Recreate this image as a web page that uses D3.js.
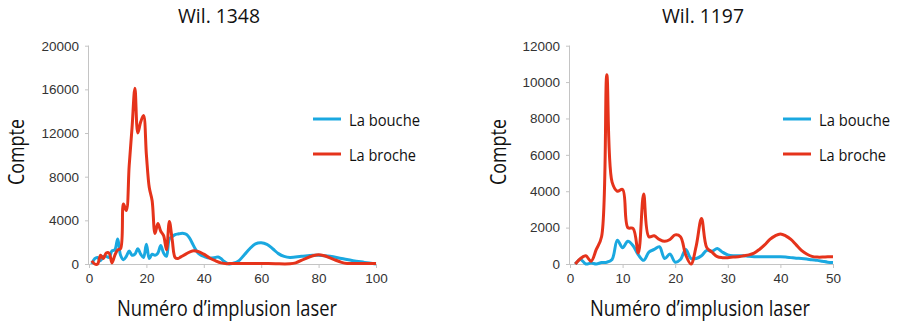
<!DOCTYPE html>
<html><head><meta charset="utf-8">
<script src="https://cdn.jsdelivr.net/npm/d3@7"></script>
<style>
html,body{margin:0;padding:0;background:#fff;}
svg{display:block;}
</style></head>
<body><svg id="c" width="897" height="326"></svg>
<script>
// ---------- Data ----------
const titles = ["Wil. 1348", "Wil. 1197"];
const seriesNames = ["La bouche", "La broche"];
const xTitle = "Numéro d’implusion laser";
const yTitle = "Compte";

// Wil. 1348
const leftBoucheX = [1,2,3,4,5,6,7,8,9,10,11,12,13,14,15,16,17,18,19,20,21,22,23,24,25,26,27,28,29,30,31,32,33,34,35,36,37,38,39,40,42,44,45,46,47,48,49,50,52,54,56,58,60,62,64,66,68,70,74,78,80,84,88,92,96,100];
const leftBoucheY = [0,500,600,300,700,700,600,1200,1300,2300,800,400,700,1200,800,900,1400,900,600,1800,500,900,800,1000,1700,1000,700,2300,2500,2700,2750,2800,2800,2700,2400,1900,1400,1000,800,700,550,600,650,500,250,80,0,50,250,800,1400,1850,1950,1800,1400,950,700,600,700,800,800,700,500,300,150,0];
const leftBrocheX = [1,2,3,4,5,6,7,8,9,10,11,12,13,14,15,16,17,18,19,20,21,22,23,24,25,26,27,28,29,30,31,32,34,36,38,40,42,44,46,48,50,55,60,65,70,72,75,78,80,82,85,88,90,95,100];
const leftBrocheY = [300,0,0,800,500,1000,1000,100,800,1300,1400,5500,4900,9000,12500,16100,12000,13000,13600,10000,7000,5800,2800,3700,3000,2600,1300,3900,2200,600,500,650,950,1200,1150,900,550,300,100,30,50,50,50,20,20,100,450,750,850,750,450,150,50,50,50];

// Wil. 1197
const rightX = [1,2,3,4,5,6,7,8,9,10,11,12,13,14,15,16,17,18,19,20,21,22,23,24,25,26,27,28,29,30,31,32,33,34,35,36,37,38,39,40,41,42,43,44,45,46,47,48,49,50];
const rightBoucheY = [0,250,0,50,0,80,100,250,1300,900,1250,1000,500,200,650,800,950,300,550,100,250,800,300,300,450,750,700,850,650,500,450,450,450,420,400,400,400,400,400,400,380,350,320,300,270,230,200,150,100,80];
const rightBrocheY = [0,300,450,150,800,1500,10400,4500,4000,4100,2000,1950,600,3850,1500,1550,1350,1250,1350,1600,1500,500,0,1000,2500,900,650,400,350,350,380,400,450,500,600,800,1050,1350,1550,1650,1550,1350,1050,750,550,420,380,380,400,400];

const leftXTicks = [0,20,40,60,80,100];
const leftYTicks = [0,4000,8000,12000,16000,20000];
const rightXTicks = [0,10,20,30,40,50];
const rightYTicks = [0,2000,4000,6000,8000,10000,12000];

const colors = ["#1aa8e0", "#e5331b"];

// ---------- Charts ----------
const charts = [
  { title: titles[0], x0: 89, x1: 376, xDomain: [0,100], yDomain: [0,20000], xTicks: leftXTicks, yTicks: leftYTicks,
    series: [ {x: leftBoucheX, y: leftBoucheY}, {x: leftBrocheX, y: leftBrocheY} ],
    titleX: 219, yTitleX: 24, xTitleX: 227, legendX: 313 },
  { title: titles[1], x0: 570, x1: 833, xDomain: [0,50], yDomain: [0,12000], xTicks: rightXTicks, yTicks: rightYTicks,
    series: [ {x: rightX, y: rightBoucheY}, {x: rightX, y: rightBrocheY} ],
    titleX: 703, yTitleX: 506, xTitleX: 700, legendX: 783 }
];

const svg = d3.select("#c");
const yTop = 45.7, yBot = 264;

charts.forEach(ch => {
  const g = svg.append("g");
  const x = d3.scaleLinear().domain(ch.xDomain).range([ch.x0, ch.x1]);
  const y = d3.scaleLinear().domain(ch.yDomain).range([yBot, yTop]);

  // axes
  const yAxis = d3.axisLeft(y).tickValues(ch.yTicks).tickSize(4).tickPadding(6).tickFormat(d3.format("d"));
  const xAxis = d3.axisBottom(x).tickValues(ch.xTicks).tickSize(4).tickPadding(5).tickFormat(d3.format("d"));
  const gy = g.append("g").attr("transform", `translate(${ch.x0},0)`).call(yAxis);
  const gx = g.append("g").attr("transform", `translate(0,${yBot})`).call(xAxis);
  [gy, gx].forEach(a => {
    a.select(".domain").attr("stroke", "#c4c4c4").attr("stroke-width", 1);
    a.selectAll(".tick line").attr("stroke", "#c4c4c4");
    a.selectAll(".tick text").attr("fill", "#333").style("font-family", "'Liberation Sans', Arial, sans-serif").style("font-size", "13.5px");
  });
  gy.select(".domain").attr("d", `M-0.5,${yTop}V${yBot}`);

  // lines
  const line = d3.line().curve(d3.curveCatmullRom.alpha(0.5));
  ch.series.forEach((s, i) => {
    const pts = s.x.map((xv, k) => [x(xv), y(s.y[k])]);
    g.append("path").attr("d", line(pts)).attr("fill", "none")
      .attr("stroke", colors[i]).attr("stroke-width", 3).attr("stroke-linejoin", "round");
  });

  // titles
  const tf = "'Open Sans', 'Noto Sans', sans-serif";
  g.append("text").attr("x", ch.titleX).attr("y", 23).attr("text-anchor", "middle")
    .style("font-family", tf).style("font-size", "20px").attr("fill", "#111")
    .attr("textLength", 82).attr("lengthAdjust", "spacingAndGlyphs").text(ch.title);
  g.append("text").attr("transform", `translate(${ch.yTitleX},152) rotate(-90)`).attr("text-anchor", "middle")
    .style("font-family", tf).style("font-size", "21px").attr("fill", "#111")
    .attr("textLength", 66).attr("lengthAdjust", "spacingAndGlyphs").text(yTitle);
  g.append("text").attr("x", ch.xTitleX).attr("y", 316).attr("text-anchor", "middle")
    .style("font-family", tf).style("font-size", "21px").attr("fill", "#111")
    .attr("textLength", 220).attr("lengthAdjust", "spacingAndGlyphs").text(xTitle);

  // legend
  seriesNames.forEach((n, i) => {
    const ly = 119 + i * 35;
    g.append("line").attr("x1", ch.legendX).attr("x2", ch.legendX + 28).attr("y1", ly).attr("y2", ly)
      .attr("stroke", colors[i]).attr("stroke-width", 3);
    g.append("text").attr("x", ch.legendX + 36).attr("y", ly + 7)
      .style("font-family", tf).style("font-size", "16px").attr("fill", "#111")
      .attr("textLength", i === 0 ? 71 : 67).attr("lengthAdjust", "spacingAndGlyphs").text(n);
  });
});
</script>
</body></html>
